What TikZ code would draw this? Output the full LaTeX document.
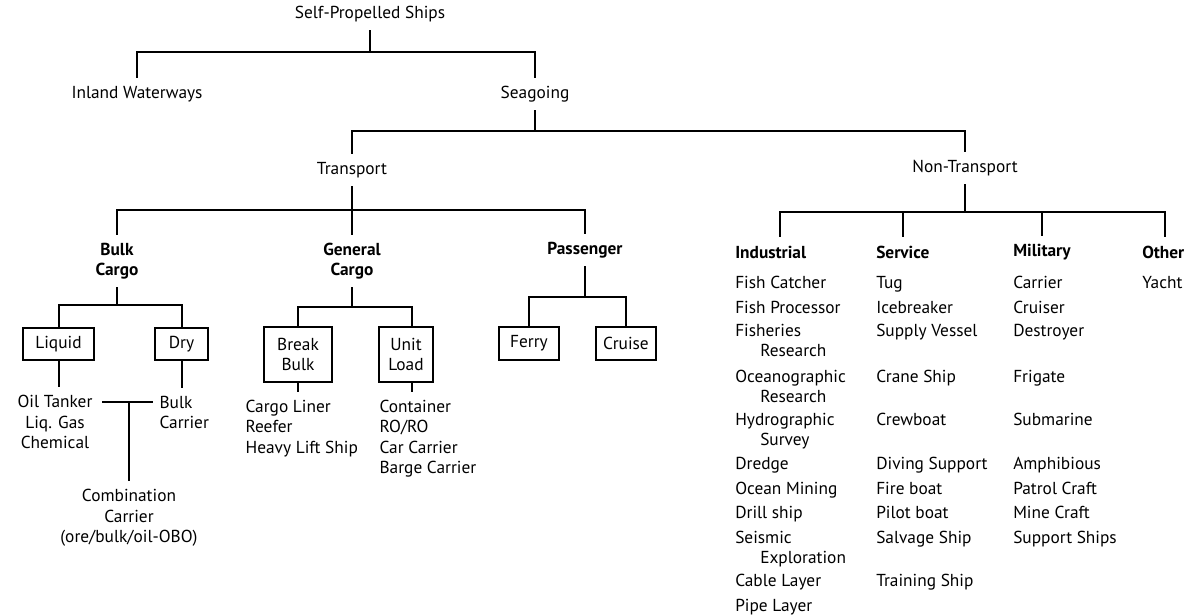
\documentclass[tikz,border=0pt]{standalone}
\usepackage{fontspec}
\setmainfont{PT Sans}
\usepackage{tikz}
\usetikzlibrary{positioning}
\newcommand\wrapitem[2]{#1\\\hspace*{18.75pt}#2}

\begin{document}
\begin{tikzpicture}[
    x=0.75pt, y=-0.75pt,
    every node/.style={font=\fontsize{13}{15.2}\selectfont, inner sep=0pt},
    lbl/.style={inner ysep=6pt, inner xsep=4pt, align=center},
    head/.style={lbl, font=\fontsize{13}{15.2}\selectfont\bfseries},
    box/.style={draw, line width=1.5pt, align=center},
    item/.style={anchor=north west, align=left},
    link/.style={line width=1.5pt},
  ]
  \useasboundingbox (0,0) rectangle (1199,616);

  % Upper levels
  \node[lbl] (root)         at (370,14)  {Self-Propelled Ships};
  \node[lbl] (inland)       at (137,94)  {Inland Waterways};
  \node[lbl] (seagoing)     at (535,94)  {Seagoing};
  \node[lbl] (transport)    at (352,170) {Transport};
  \node[lbl] (nontransport) at (965,168) {Non-Transport};

  % Bus levels
  \coordinate (busA) at (0,52);
  \coordinate (busB) at (0,131);
  \coordinate (busC) at (0,210);
  \coordinate (busD) at (0,212);
  \coordinate (busE) at (0,305);
  \coordinate (busF) at (0,307);
  \coordinate (busG) at (0,297);
  \coordinate (comb) at (129,402);

  \draw[link] (root.south) -- (root.south |- busA) -| (inland.north);
  \draw[link] (root.south |- busA) -| (seagoing.north);
  \draw[link] (seagoing.south) -- (seagoing.south |- busB) -| (transport.north);
  \draw[link] (seagoing.south |- busB) -| (nontransport.north);

  % Transport groups
  \node[head] (bulk)      at (117,261) {Bulk\\Cargo};
  \node[head] (general)   at (352,261) {General\\Cargo};
  \node[head] (passenger) at (585,250) {Passenger};

  \draw[link] (transport.south) -- (transport.south |- busC) -| (bulk.north);
  \draw[link] (transport.south |- busC) -| (general.north);
  \draw[link] (transport.south |- busC) -| (passenger.north);

  % Bulk cargo
  \node[box, minimum width=53.25pt, minimum height=24pt] (liquid) at (58.5,344) {Liquid};
  \node[box, minimum width=39.75pt, minimum height=24pt] (dry)    at (181.5,344) {Dry};
  \node[lbl] (oil) at (55,422) {Oil Tanker\\Liq. Gas\\Chemical};
  \node[lbl, anchor=north west, align=left] (bulkc) at (154,388) {Bulk\\Carrier};
  \node[lbl] (combo) at (129,518) {Combination\\Carrier\\(ore/bulk/oil-OBO)};

  \draw[link] (bulk.south) -- (bulk.south |- busE) -| (liquid.north);
  \draw[link] (bulk.south |- busE) -| (dry.north);
  \draw[link] (liquid.south) -- (liquid.south |- oil.north);
  \draw[link] (dry.south) -- (dry.south |- bulkc.north);
  \draw[link] ([xshift=3pt]oil.east |- comb) -- ([xshift=-1pt]bulkc.west |- comb);
  \draw[link] (comb) -- (combo.north);

  % General cargo
  \node[box, minimum width=51pt, minimum height=41.25pt]   (breakbulk) at (298,354.5) {Break\\Bulk};
  \node[box, minimum width=40.5pt, minimum height=41.25pt] (unitload)  at (406,354.5) {Unit\\Load};
  \node[lbl, anchor=north west, align=left] (liner) at (240,392) {Cargo Liner\\Reefer\\Heavy Lift Ship};
  \node[lbl, anchor=north west, align=left] (cont)  at (374,392) {Container\\RO/RO\\Car Carrier\\Barge Carrier};

  \draw[link] (general.south) -- (general.south |- busF) -| (breakbulk.north);
  \draw[link] (general.south |- busF) -| ([xshift=4.5pt]unitload.north);
  \draw[link] (breakbulk.south) -- (breakbulk.south |- liner.north);
  \draw[link] ([xshift=4.5pt]unitload.south) -- ([xshift=4.5pt]unitload.south |- cont.north);

  % Passenger
  \node[box, minimum width=45pt, minimum height=24.75pt] (ferry)  at (529,343.5) {Ferry};
  \node[box, minimum width=45pt, minimum height=24.75pt] (cruise) at (626,343.5) {Cruise};

  \draw[link] (passenger.south) -- (passenger.south |- busG) -| (ferry.north);
  \draw[link] (passenger.south |- busG) -| (cruise.north);

  % Non-transport groups
  \node[head, anchor=west, inner xsep=0pt] (industrial) at (735,252)  {Industrial};
  \node[head, anchor=west, inner xsep=0pt] (service)    at (876,252)  {Service};
  \node[head, anchor=west, inner xsep=0pt] (military)   at (1013,252) {Military};
  \node[head, anchor=west, inner xsep=0pt] (other)      at (1142,252) {Other};

  \draw[link] (nontransport.south) -- (nontransport.south |- busD) -| ([xshift=7pt]industrial.north);
  \draw[link] (nontransport.south |- busD) -| (service.north);
  \draw[link] (nontransport.south |- busD) -| (military.north);
  \draw[link] (nontransport.south |- busD) -| ([xshift=1.5pt]other.north);

  % Lists
  \foreach \y/\t [count=\i] in {276/Fish Catcher, 301/Fish Processor,
      324/{\wrapitem{Fisheries}{Research}}, 370/{\wrapitem{Oceanographic}{Research}},
      413/{\wrapitem{Hydrographic}{Survey}}, 457/Dredge, 482/Ocean Mining,
      506/Drill ship, 531/{\wrapitem{Seismic}{Exploration}}, 574/Cable Layer,
      599/Pipe Layer}
    \node[item] (ind\i) at (735,\y) {\t};
  \foreach \y/\t [count=\i] in {276/Tug, 301/Icebreaker, 324/Supply Vessel,
      370/Crane Ship, 413/Crewboat, 457/Diving Support, 482/Fire boat,
      506/Pilot boat, 531/Salvage Ship, 574/Training Ship}
    \node[item] (srv\i) at (876,\y) {\t};
  \foreach \y/\t [count=\i] in {276/Carrier, 301/Cruiser, 324/Destroyer,
      370/Frigate, 413/Submarine, 457/Amphibious, 482/Patrol Craft,
      506/Mine Craft, 531/Support Ships}
    \node[item] (mil\i) at (1013,\y) {\t};
  \node[item] (oth1) at (1142,276) {Yacht};

\end{tikzpicture}
\end{document}
